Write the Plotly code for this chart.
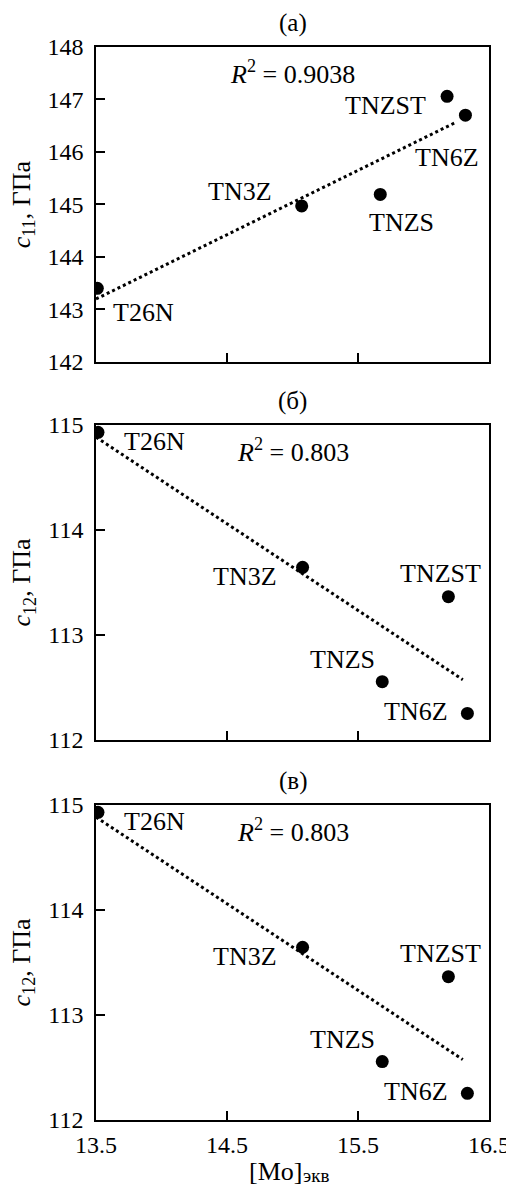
import numpy as np
import plotly.graph_objects as go

# ---------------- data ----------------
alloys = ["T26N", "TN3Z", "TNZS", "TNZST", "TN6Z"]
mo_eq_a = [13.51, 15.07, 15.67, 16.18, 16.32]
c11 = [143.40, 144.97, 145.19, 147.06, 146.70]
mo_eq_b = [13.515, 15.077, 15.685, 16.19, 16.335]
c12 = [114.93, 113.645, 112.556, 113.365, 112.254]
trend_x_a = [13.5, 16.25]
trend_x_b = [13.5, 16.30]
r2_a = "0.9038"
r2_b = "0.803"
x_ticks = [13.5, 14.5, 15.5, 16.5]
y_ticks_a = [142, 143, 144, 145, 146, 147, 148]
y_ticks_b = [112, 113, 114, 115]
panel_titles = ["(a)", "(б)", "(в)"]
y_titles = ["<i>c</i><sub>11</sub>, ГПа", "<i>c</i><sub>12</sub>, ГПа", "<i>c</i><sub>12</sub>, ГПа"]
x_title_main = "[Mo]"
x_title_sub = "экв"

# ---------------- style ----------------
# the page body adds an 8px margin, so the figure is drawn 8px smaller
OFF = 8
FONT = "Liberation Serif"
W, H = 514 - OFF, 1189 - OFF
ML, MR, MT, MB = 96 - OFF, 25, 47 - OFF, 69
PW, PH = W - ML - MR, H - MT - MB
domains = [[0.7067, 1.0], [0.3541, 0.6477], [0.0, 0.2936]]

# label pixel offsets (dx right, dy up)
offs_a = {"T26N": (46, -24), "TN3Z": (-62, 14), "TNZS": (21, -28), "TNZST": (-62, -9), "TN6Z": (-18, -42)}
offs_b = {"T26N": (57, -9), "TN3Z": (-58, -9), "TNZS": (-40, 22), "TNZST": (-8, 23), "TN6Z": (-51, 2)}

panels = [
    (mo_eq_a, c11, trend_x_a, r2_a, y_ticks_a, offs_a),
    (mo_eq_b, c12, trend_x_b, r2_b, y_ticks_b, offs_b),
    (mo_eq_b, c12, trend_x_b, r2_b, y_ticks_b, offs_b),
]

fig = go.Figure()
annotations = []
layout = {}

for i, (xs, ys, tx, r2, yt, offs) in enumerate(panels):
    n = "" if i == 0 else str(i + 1)
    xa, ya = "x" + n, "y" + n
    slope, icpt = np.polyfit(xs, ys, 1)
    ty = [slope * v + icpt for v in tx]
    fig.add_trace(go.Scatter(x=tx, y=ty, mode="lines", xaxis=xa, yaxis=ya,
                             line=dict(color="black", width=3, dash="3px,3px"),
                             showlegend=False, hoverinfo="skip"))
    fig.add_trace(go.Scatter(x=xs, y=ys, mode="markers", xaxis=xa, yaxis=ya,
                             marker=dict(color="black", size=13),
                             showlegend=False))
    last = i == 2
    layout["xaxis" + n] = dict(
        domain=[0, 1], range=[13.5, 16.5], tickvals=x_ticks,
        ticktext=[f"{v:.1f}" for v in x_ticks], showticklabels=last,
        ticks="inside", ticklen=9, tickwidth=1.5, tickcolor="black",
        showline=True, linecolor="black", linewidth=1.5, mirror=True,
        showgrid=False, zeroline=False, anchor=ya, automargin=False,
        tickfont=dict(family=FONT, size=24, color="black"),
        ticklabelstandoff=2,
    )
    layout["yaxis" + n] = dict(
        domain=domains[i], range=[yt[0], yt[-1]], tickvals=yt,
        ticks="inside", ticklen=9, tickwidth=1.5, tickcolor="black",
        showline=True, linecolor="black", linewidth=1.5, mirror=True,
        showgrid=False, zeroline=False, anchor=xa, automargin=False,
        tickfont=dict(family=FONT, size=24, color="black"),
        ticklabelstandoff=6,
    )
    xdom = xa + " domain"
    ydom = ya + " domain"
    # panel title
    annotations.append(dict(text=panel_titles[i], xref=xdom, yref=ydom, x=0.5, y=1,
                            yshift=24, xanchor="center", yanchor="middle", showarrow=False,
                            font=dict(family=FONT, size=25, color="black")))
    # R^2
    annotations.append(dict(text=f"<i>R</i><sup>2</sup> = {r2}", xref=xdom, yref=ydom,
                            x=0.5, y=0.918, xanchor="center", yanchor="middle", showarrow=False,
                            font=dict(family=FONT, size=26, color="black")))
    # y title
    annotations.append(dict(text=y_titles[i], xref="paper", yref=ydom, x=(23 - OFF - ML) / PW,
                            y=0.5, xanchor="center", yanchor="middle", textangle=-90,
                            showarrow=False, font=dict(family=FONT, size=26, color="black")))
    # point labels
    for name, xv, yv in zip(alloys, xs, ys):
        dx, dy = offs[name]
        annotations.append(dict(text=name, xref=xa, yref=ya, x=xv, y=yv, xshift=dx, yshift=dy,
                                xanchor="center", yanchor="middle", showarrow=False,
                                font=dict(family=FONT, size=26, color="black")))

# x-axis title: main part and subscript as two pieces
y_bottom = (MB * -1) / PH
annotations.append(dict(text=x_title_main, xref="paper", yref="paper", x=(304 - OFF - ML) / PW,
                        y=y_bottom, yshift=1, xanchor="right", yanchor="bottom", showarrow=False,
                        font=dict(family=FONT, size=26, color="black")))
annotations.append(dict(text=x_title_sub, xref="paper", yref="paper", x=(301 - OFF - ML) / PW,
                        y=y_bottom, yshift=1, xanchor="left", yanchor="bottom", showarrow=False,
                        font=dict(family=FONT, size=19, color="black")))

fig.update_layout(width=W, height=H, margin=dict(l=ML, r=MR, t=MT, b=MB),
                  paper_bgcolor="white", plot_bgcolor="white",
                  annotations=annotations, **layout)

fig.write_html("out.html")
